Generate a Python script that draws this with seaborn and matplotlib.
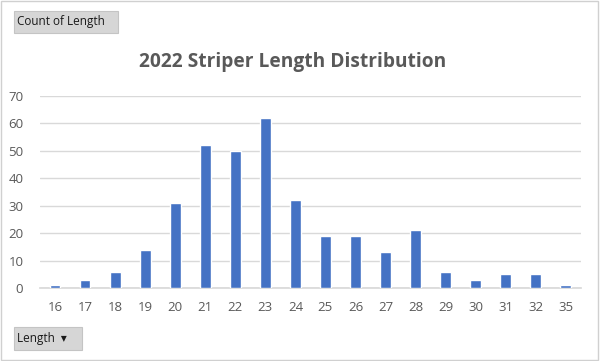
import matplotlib
matplotlib.use("Agg")
import matplotlib.pyplot as plt
from matplotlib.patches import Rectangle
import pandas as pd
import seaborn as sns

lengths = ["16", "17", "18", "19", "20", "21", "22", "23", "24",
           "25", "26", "27", "28", "29", "30", "31", "32", "35"]
counts = [1, 3, 6, 14, 31, 52, 50, 62, 32, 19, 19, 13, 21, 6, 3, 5, 5, 1]

df = pd.DataFrame({"Length": lengths, "Count": counts})

sns.set_theme(style="white")
plt.rcParams["font.family"] = ["Open Sans", "DejaVu Sans"]

grey = "#595959"
fig = plt.figure(figsize=(6, 3.61), dpi=100)
ax = fig.add_axes([0.0667, 0.2022, 0.9013, 0.532])

sns.barplot(data=df, x="Length", y="Count", color="#4472C4", width=0.36,
            saturation=1, ax=ax, zorder=3)

ax.set_ylim(0, 70)
ax.set_yticks(range(0, 71, 10))
ax.yaxis.grid(True, color="#d9d9d9", linewidth=1, zorder=0)
for s in ["top", "right", "left"]:
    ax.spines[s].set_visible(False)
ax.spines["bottom"].set_color("#d9d9d9")
ax.tick_params(axis="both", colors=grey, labelsize=9.5, length=0)
ax.tick_params(axis="x", pad=9)
ax.tick_params(axis="y", pad=12)
ax.set_xlabel("")
ax.set_ylabel("")

fig.text(0.488, 0.828, "2022 Striper Length Distribution", ha="center",
         va="center", fontsize=13.8, fontweight="bold", color=grey)

# outer border
fig.patches.append(Rectangle((0.002, 0.003), 0.995, 0.993, transform=fig.transFigure,
                             fill=False, edgecolor="#d0d0d0", linewidth=1))

# pivot field buttons
for x0, y0, w, h, label in [(14, 11, 104, 22, "Count of Length"),
                            (14, 327, 68, 23, "Length  \u25be")]:
    fig.patches.append(Rectangle((x0 / 600, 1 - (y0 + h) / 361), w / 600, h / 361,
                                 transform=fig.transFigure, facecolor="#d6d6d6",
                                 edgecolor="#c4c4c4", linewidth=0.8))
    fig.text((x0 + 3) / 600, 1 - (y0 + h / 2) / 361, label, ha="left", va="center",
             fontsize=8.5, color="#1a1a1a")

fig.savefig("out.png", dpi=100)
